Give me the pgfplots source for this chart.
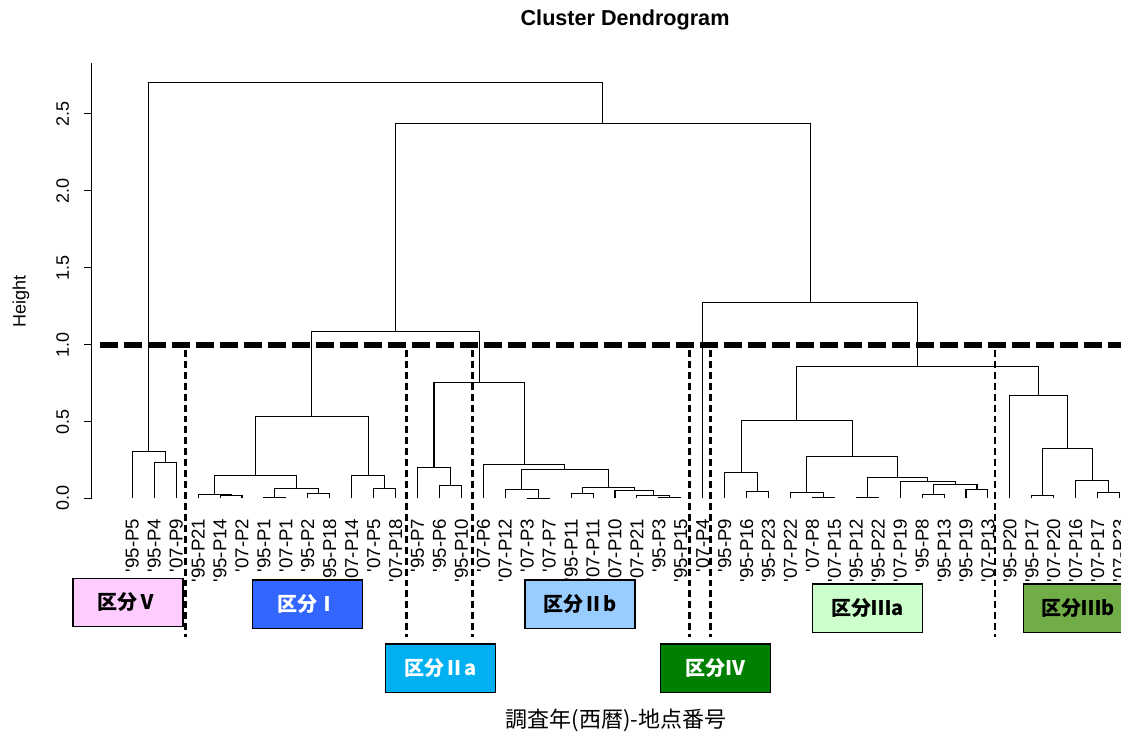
\documentclass[border=0pt]{standalone}
\usepackage{fontspec}
\setmainfont{Liberation Sans}
\newfontfamily\jp{Noto Sans CJK JP}
\usepackage{pgfplots}
\pgfplotsset{compat=1.18}
\definecolor{kV}{HTML}{FFCCFF}
\definecolor{kI}{HTML}{3366FF}
\definecolor{kIIa}{HTML}{00B0F0}
\definecolor{kIIb}{HTML}{99CCFF}
\definecolor{kIV}{HTML}{008000}
\definecolor{kIIIa}{HTML}{CCFFCC}
\definecolor{kIIIb}{HTML}{70AD47}
\newcommand\q{\textquotesingle}
\tikzset{bx/.style={draw=black, line width=1.1pt, minimum width=82.5pt,
  minimum height=36.2pt, inner sep=0pt,
  font=\jp\bfseries\fontsize{15}{15}\selectfont}}
\begin{document}
\begin{tikzpicture}
\begin{axis}[
  x=16.455pt, y=115.35pt,
  xmin=-0.837, xmax=46.064, ymin=0, ymax=2.832,
  axis lines*=left,
  x axis line style={draw=none},
  y axis line style={black, line width=0.75pt},
  xtick={1,...,46},
  xticklabels={\q95-P5,\q95-P4,\q07-P9,\q95-P21,\q95-P14,\q07-P2,\q95-P1,\q07-P1,
    \q95-P2,\q95-P18,\q07-P14,\q07-P5,\q07-P18,\q95-P7,\q95-P6,\q95-P10,
    \q07-P6,\q07-P12,\q07-P3,\q07-P7,\q95-P11,\q07-P11,\q07-P10,\q07-P21,
    \q95-P3,\q95-P15,\q07-P4,\q95-P9,\q95-P16,\q95-P23,\q07-P22,\q07-P8,
    \q07-P15,\q95-P12,\q95-P22,\q07-P19,\q95-P8,\q95-P13,\q95-P19,\q07-P13,
    \q95-P20,\q95-P17,\q07-P20,\q07-P16,\q07-P17,\q07-P23},
  xtick style={draw=none},
  xticklabel style={rotate=90, anchor=east, inner sep=0pt,
    font=\fontsize{14}{14}\selectfont},
  xticklabel shift=9pt,
  ytick={0,0.5,1,1.5,2,2.5},
  yticklabels={0.0,0.5,1.0,1.5,2.0,2.5},
  yticklabel style={rotate=90, anchor=south, inner sep=0pt,
    font=\fontsize{13.5}{13.5}\selectfont},
  yticklabel shift=11pt,
  ytick style={black, line width=0.75pt},
  tick align=outside,
  major tick length=6pt,
  clip=false,
]
% dendrogram: one U per merge (left x, left h, merge h, right x, right h)
\addplot[black, line width=0.8pt, unbounded coords=jump] coordinates {
  (2,0)(2,0.236)(3,0.236)(3,0) (0,nan)
  (1,0)(1,0.306)(2.5,0.306)(2.5,0.236) (0,nan)
  (5,0)(5,0.017)(6,0.017)(6,0) (0,nan)
  (4,0)(4,0.026)(5.5,0.026)(5.5,0.017) (0,nan)
  (7,0)(7,0.009)(8,0.009)(8,0) (0,nan)
  (9,0)(9,0.032)(10,0.032)(10,0) (0,nan)
  (7.5,0.009)(7.5,0.067)(9.5,0.067)(9.5,0.032) (0,nan)
  (4.75,0.026)(4.75,0.148)(8.5,0.148)(8.5,0.067) (0,nan)
  (12,0)(12,0.067)(13,0.067)(13,0) (0,nan)
  (11,0)(11,0.148)(12.5,0.148)(12.5,0.067) (0,nan)
  (6.625,0.148)(6.625,0.536)(11.75,0.536)(11.75,0.148) (0,nan)
  (15,0)(15,0.083)(16,0.083)(16,0) (0,nan)
  (14,0)(14,0.204)(15.5,0.204)(15.5,0.083) (0,nan)
  (19,0)(19,0.002)(20,0.002)(20,0) (0,nan)
  (18,0)(18,0.061)(19.5,0.061)(19.5,0.002) (0,nan)
  (21,0)(21,0.031)(22,0.031)(22,0) (0,nan)
  (25,0)(25,0.009)(26,0.009)(26,0) (0,nan)
  (24,0)(24,0.022)(25.5,0.022)(25.5,0.009) (0,nan)
  (23,0)(23,0.054)(24.75,0.054)(24.75,0.022) (0,nan)
  (21.5,0.031)(21.5,0.070)(23.875,0.070)(23.875,0.054) (0,nan)
  (18.75,0.061)(18.75,0.191)(22.6875,0.191)(22.6875,0.070) (0,nan)
  (17,0)(17,0.219)(20.719,0.219)(20.719,0.191) (0,nan)
  (14.75,0.204)(14.75,0.757)(18.859,0.757)(18.859,0.219) (0,nan)
  (9.1875,0.536)(9.1875,1.087)(16.805,1.087)(16.805,0.757) (0,nan)
  (29,0)(29,0.046)(30,0.046)(30,0) (0,nan)
  (28,0)(28,0.167)(29.5,0.167)(29.5,0.046) (0,nan)
  (32,0)(32,0.007)(33,0.007)(33,0) (0,nan)
  (31,0)(31,0.039)(32.5,0.039)(32.5,0.007) (0,nan)
  (34,0)(34,0.007)(35,0.007)(35,0) (0,nan)
  (37,0)(37,0.024)(38,0.024)(38,0) (0,nan)
  (39,0)(39,0.059)(40,0.059)(40,0) (0,nan)
  (37.5,0.024)(37.5,0.089)(39.5,0.089)(39.5,0.059) (0,nan)
  (36,0)(36,0.111)(38.5,0.111)(38.5,0.089) (0,nan)
  (34.5,0.007)(34.5,0.139)(37.25,0.139)(37.25,0.111) (0,nan)
  (31.75,0.039)(31.75,0.271)(35.875,0.271)(35.875,0.139) (0,nan)
  (28.75,0.167)(28.75,0.506)(33.8125,0.506)(33.8125,0.271) (0,nan)
  (42,0)(42,0.020)(43,0.020)(43,0) (0,nan)
  (45,0)(45,0.037)(46,0.037)(46,0) (0,nan)
  (44,0)(44,0.117)(45.5,0.117)(45.5,0.037) (0,nan)
  (42.5,0.020)(42.5,0.323)(44.75,0.323)(44.75,0.117) (0,nan)
  (41,0)(41,0.669)(43.625,0.669)(43.625,0.323) (0,nan)
  (31.281,0.506)(31.281,0.859)(42.3125,0.859)(42.3125,0.669) (0,nan)
  (27,0)(27,1.274)(36.797,1.274)(36.797,0.859) (0,nan)
  (12.996,1.087)(12.996,2.441)(31.898,2.441)(31.898,1.274) (0,nan)
  (1.75,0.306)(1.75,2.702)(22.447,2.702)(22.447,2.441)
};
% cut height
\addplot[black, line width=4.5pt, dash pattern=on 13.5pt off 4.5pt]
  coordinates {(-0.472,1)(46.064,1)};
% group boundaries
\addplot[black, line width=1.9pt, dash pattern=on 5.2pt off 3pt, unbounded coords=jump]
  coordinates {
  (3.416,0.966)(3.416,-0.900) (0,nan)
  (13.507,0.966)(13.507,-0.900) (0,nan)
  (16.497,0.966)(16.497,-0.900) (0,nan)
  (26.388,0.966)(26.388,-0.900) (0,nan)
  (27.364,0.966)(27.364,-0.900) (0,nan)
  (40.322,0.966)(40.322,-0.900)
};
\node[bx, fill=kV] at (axis cs:0.804,-0.676) {区分Ⅴ};
\node[bx, fill=kI, text=white] at (axis cs:8.994,-0.687) {区分Ⅰ};
\node[bx, fill=kIIa, text=white] at (axis cs:15.057,-1.104) {区分Ⅱa};
\node[bx, fill=kIIb] at (axis cs:21.406,-0.687) {区分Ⅱb};
\node[bx, fill=kIV, text=white] at (axis cs:27.573,-1.104) {区分Ⅳ};
\node[bx, fill=kIIIa] at (axis cs:34.501,-0.713) {区分Ⅲa};
\node[bx, fill=kIIIb] at (axis cs:44.118,-0.713) {区分Ⅲb};
\node[font=\bfseries\fontsize{16.2}{16.2}\selectfont] at (axis cs:23.46,3.111) {Cluster Dendrogram};
\node[rotate=90, font=\fontsize{13.5}{13.5}\selectfont] at (axis cs:-4.073,1.278) {Height};
\node[font=\jp\fontsize{16.5}{16.5}\selectfont] at (axis cs:23.04,-1.440) {調査年(西暦)-地点番号};
\coordinate (bbsw) at (axis cs:-5.030,-1.525);
\coordinate (bbne) at (axis cs:46.064,3.241);
\end{axis}
\pgfresetboundingbox
\useasboundingbox (bbsw) rectangle (bbne);
\end{tikzpicture}
\end{document}
